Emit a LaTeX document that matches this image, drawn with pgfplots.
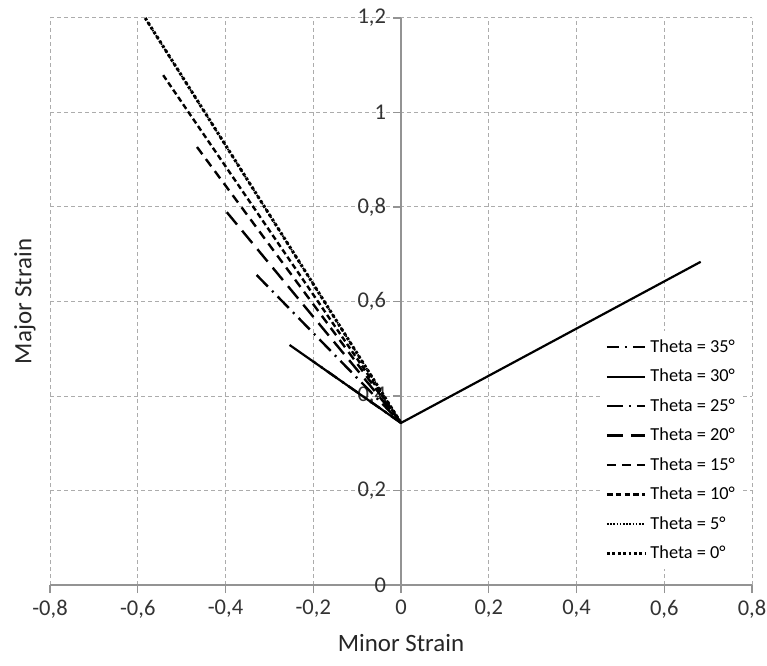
\documentclass[border=0pt]{standalone}
\usepackage{fontspec}
\setmainfont{Carlito}
\usepackage{pgfplots}
\pgfplotsset{compat=1.18}
\begin{document}
\begin{tikzpicture}
\useasboundingbox (-25bp,-40.5bp) rectangle (358.5bp,292.5bp);
\begin{axis}[
  at={(0,0)}, anchor=south west,
  scale only axis, width=351bp, height=283.5bp,
  xmin=-0.8, xmax=0.8, ymin=0, ymax=1.2,
  xtick={-0.8,-0.6,-0.4,-0.2,0,0.2,0.4,0.6,0.8},
  ytick={0,0.2,0.4,0.6,0.8,1,1.2},
  axis x line=bottom, axis y line=center,
  axis line style={-, draw=gray!85, line width=0.6bp},
  hide obscured x ticks=false, hide obscured y ticks=false,
  grid=major,
  major grid style={draw=gray!65, line width=0.5bp, dash pattern=on 2bp off 1.5bp},
  tick style={draw=gray!85, line width=0.6bp},
  major tick length=4bp, tick align=outside,
  /pgf/number format/.cd, use comma, 1000 sep={}, assume math mode=true,
  /pgfplots/.cd,
  ticklabel style={font=\fontsize{11.3}{13}\selectfont, text=black!80},
  xlabel={Minor Strain}, ylabel={Major Strain},
  every axis x label/.style={at={(axis description cs:0.5,0)}, anchor=north, yshift=-21bp, font=\fontsize{12.5}{15}\selectfont, text=black!85},
  every axis y label/.style={at={(axis description cs:0,0.5)}, xshift=-12.5bp, anchor=center, rotate=90, font=\fontsize{12.5}{15}\selectfont, text=black!85},
  legend style={at={(axis description cs:0.785,0.448)}, anchor=north west, draw=none, fill=white, font=\fontsize{9.2}{11}\selectfont, row sep=2.9bp, inner sep=2bp, cells={anchor=west}},
  legend image code/.code={\draw[#1] (0bp,0bp) -- (19bp,0bp);},
]
% Theta = 35
\addplot[black, line width=1.2bp, dash pattern=on 6bp off 3bp on 1bp off 3bp] coordinates {(0,0.343) (-0.2,0.473)};
\addlegendentry{Theta = 35°}
% Theta = 30
\addplot[black, line width=1.1bp] coordinates {(-0.254,0.508) (0,0.343) (0.683,0.684)};
\addlegendentry{Theta = 30°}
% Theta = 25
\addplot[black, line width=1.2bp, dash pattern=on 8bp off 3bp on 1bp off 3bp] coordinates {(-0.329,0.656) (0,0.343)};
\addlegendentry{Theta = 25°}
% Theta = 20
\addplot[black, line width=1.2bp, dash pattern=on 8bp off 4bp] coordinates {(-0.397,0.789) (0,0.343)};
\addlegendentry{Theta = 20°}
% Theta = 15
\addplot[black, line width=1.2bp, dash pattern=on 4.5bp off 3bp] coordinates {(-0.465,0.927) (0,0.343)};
\addlegendentry{Theta = 15°}
% Theta = 10
\addplot[black, line width=1.2bp, dash pattern=on 2.8bp off 1.6bp] coordinates {(-0.542,1.079) (0,0.343)};
\addlegendentry{Theta = 10°}
% Theta = 5
\addplot[black, line width=0.9bp, dash pattern=on 0.8bp off 0.8bp] coordinates {(-0.578,1.192) (0,0.343)};
\addlegendentry{Theta = 5°}
% Theta = 0
\addplot[black, line width=1.5bp, dash pattern=on 1.4bp off 1.3bp] coordinates {(-0.583,1.2) (0,0.343)};
\addlegendentry{Theta = 0°}
\end{axis}
\end{tikzpicture}
\end{document}
